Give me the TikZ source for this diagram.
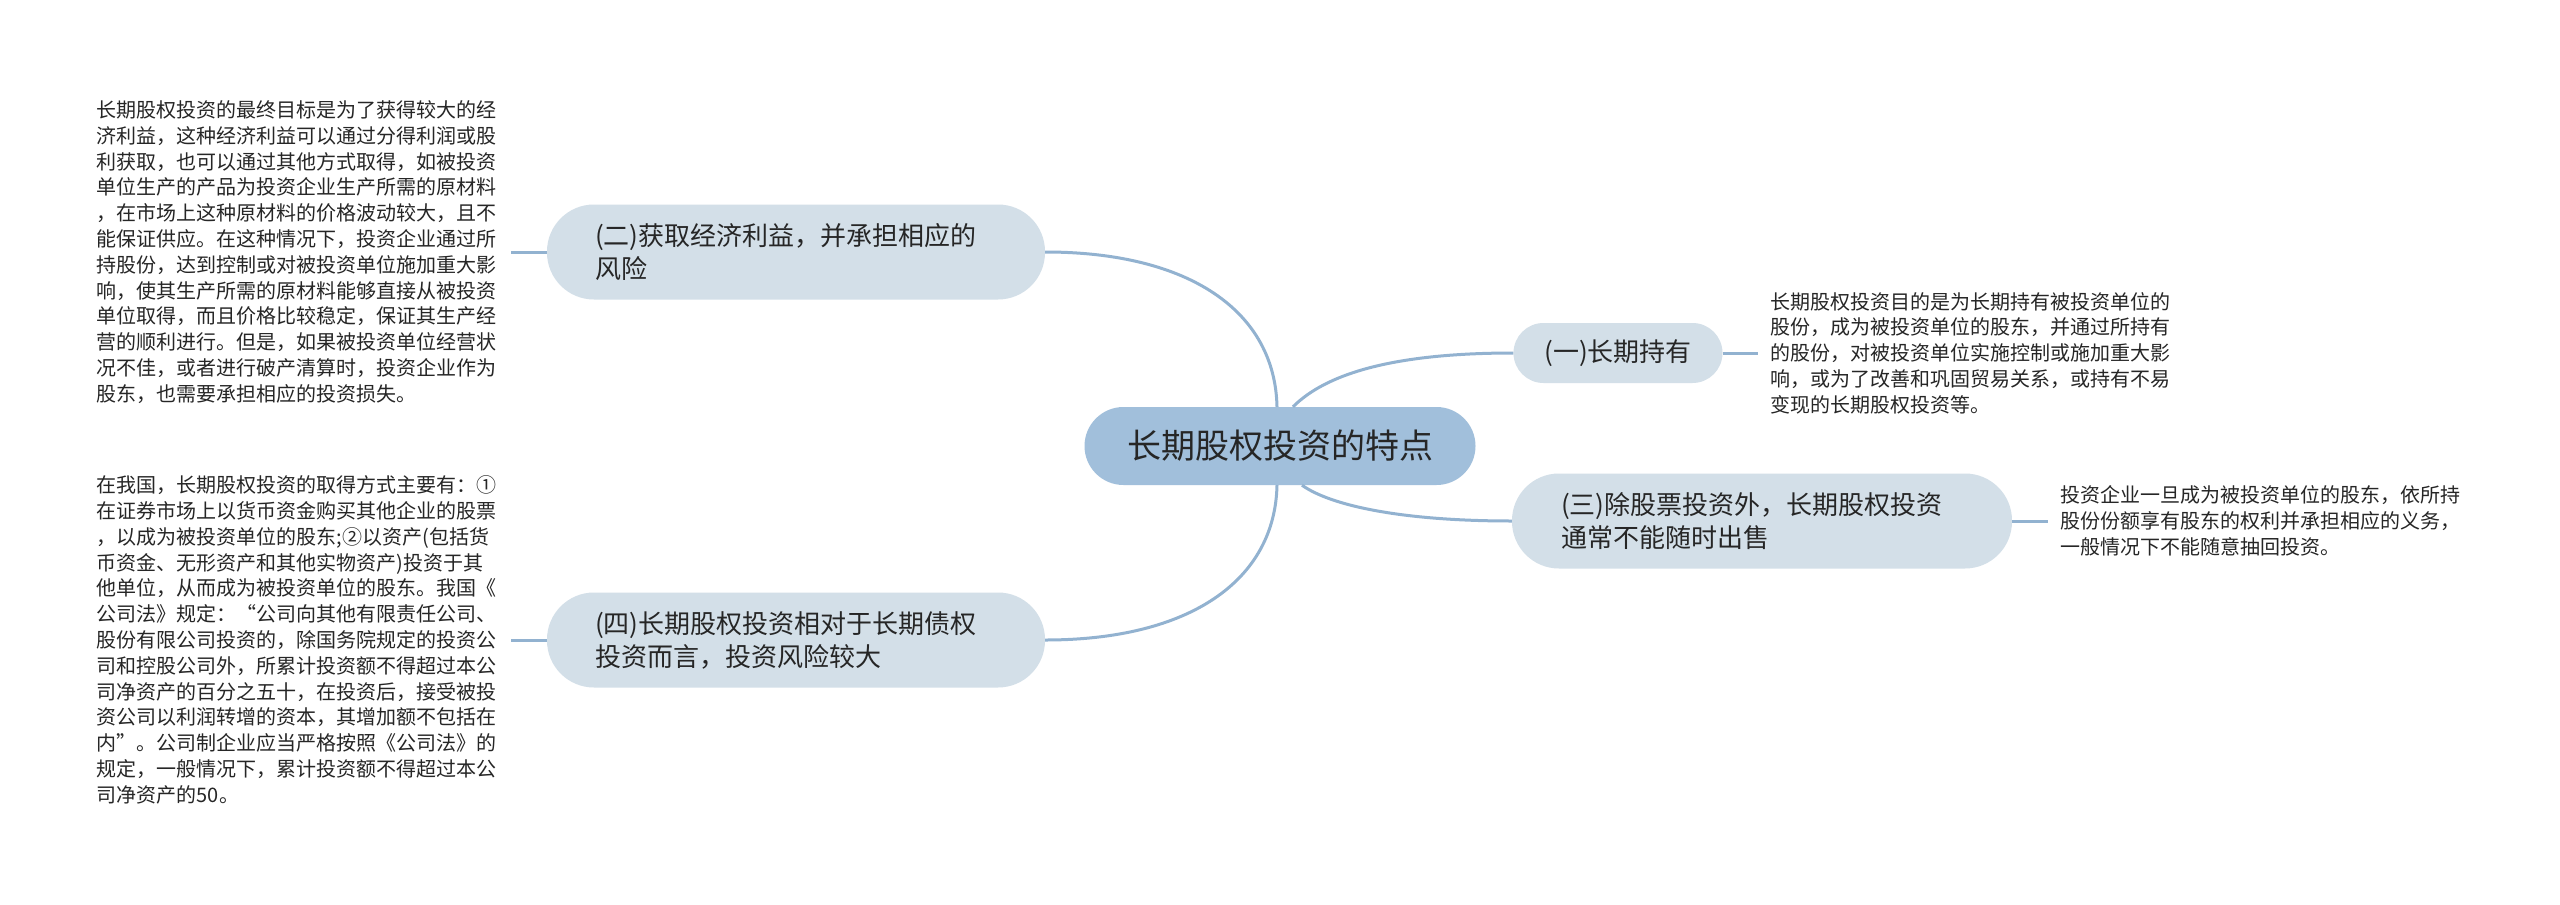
\documentclass[tikz,border=0pt]{standalone}
\usepackage{fontspec}
\setmainfont{Noto Sans CJK SC}
\definecolor{rootfill}{RGB}{161,191,219}
\definecolor{branchfill}{RGB}{211,223,232}
\definecolor{edgecol}{RGB}{146,178,208}
\definecolor{txt}{RGB}{38,38,38}
\tikzset{
  rootbox/.style={fill=rootfill, rounded corners=39pt, minimum width=391pt, minimum height=78pt, inner sep=0pt, font=\fontsize{34}{40}\selectfont, text=txt},
  branchbox/.style={fill=branchfill, rounded corners=47pt, minimum width=498pt, minimum height=95pt, inner sep=0pt, font=\fontsize{26}{33}\selectfont, text=txt, align=left, text width=402pt},
  smallbox/.style={fill=branchfill, rounded corners=30pt, minimum width=209pt, minimum height=60pt, inner sep=0pt, font=\fontsize{26}{33}\selectfont, text=txt},
  leaf/.style={font=\fontsize{20}{25.8}\selectfont, text=txt, align=left, text width=402pt, inner xsep=12pt, inner ysep=0pt},
  edge/.style={draw=edgecol, line width=3pt}
}
\begin{document}
\begin{tikzpicture}[x=1pt, y=-1pt]
\useasboundingbox (0,0) rectangle (2560,905);
\fill[white] (0,0) rectangle (2560,905);

\node[rootbox] (root) at (1280,446) {长期股权投资的特点};
\node[smallbox] (b1) at (1618,353) {(一)长期持有};
\node[branchbox] (b2) at (796,252) {(二)获取经济利益，并承担相应的\\风险};
\node[branchbox, minimum width=500pt] (b3) at (1762,521) {(三)除股票投资外，长期股权投资\\通常不能随时出售};
\node[branchbox] (b4) at (796,640) {(四)长期股权投资相对于长期债权\\投资而言，投资风险较大};

\node[leaf, anchor=west] (l1) at (1758,353) {长期股权投资目的是为长期持有被投资单位的\\股份，成为被投资单位的股东，并通过所持有\\的股份，对被投资单位实施控制或施加重大影\\响，或为了改善和巩固贸易关系，或持有不易\\变现的长期股权投资等。};
\node[leaf, anchor=east] (l2) at (511,252) {长期股权投资的最终目标是为了获得较大的经\\济利益，这种经济利益可以通过分得利润或股\\利获取，也可以通过其他方式取得，如被投资\\单位生产的产品为投资企业生产所需的原材料\\，在市场上这种原材料的价格波动较大，且不\\能保证供应。在这种情况下，投资企业通过所\\持股份，达到控制或对被投资单位施加重大影\\响，使其生产所需的原材料能够直接从被投资\\单位取得，而且价格比较稳定，保证其生产经\\营的顺利进行。但是，如果被投资单位经营状\\况不佳，或者进行破产清算时，投资企业作为\\股东，也需要承担相应的投资损失。};
\node[leaf, anchor=west] (l3) at (2048,521) {投资企业一旦成为被投资单位的股东，依所持\\股份份额享有股东的权利并承担相应的义务，\\一般情况下不能随意抽回投资。};
\node[leaf, anchor=east] (l4) at (511,640) {在我国，长期股权投资的取得方式主要有：①\\在证券市场上以货币资金购买其他企业的股票\\，以成为被投资单位的股东;②以资产(包括货\\币资金、无形资产和其他实物资产)投资于其\\他单位，从而成为被投资单位的股东。我国《\\公司法》规定：“公司向其他有限责任公司、\\股份有限公司投资的，除国务院规定的投资公\\司和控股公司外，所累计投资额不得超过本公\\司净资产的百分之五十，在投资后，接受被投\\资公司以利润转增的资本，其增加额不包括在\\内”。公司制企业应当严格按照《公司法》的\\规定，一般情况下，累计投资额不得超过本公\\司净资产的50。};

\draw[edge] ([xshift=-3pt]root.north) .. controls +(-2,-95) and +(145,0) .. (b2.east);
\draw[edge] ([xshift=13pt]root.north) .. controls +(32,-32) and +(-123,0) .. (b1.west);
\draw[edge] ([xshift=-3pt]root.south) .. controls +(-2,95) and +(145,0) .. (b4.east);
\draw[edge] ([xshift=22pt]root.south) .. controls +(28,20) and +(-112,0) .. (b3.west);

\draw[edge] (b1.east) -- (l1.west);
\draw[edge] (b2.west) -- (l2.east);
\draw[edge] (b3.east) -- (l3.west);
\draw[edge] (b4.west) -- (l4.east);
\end{tikzpicture}
\end{document}
